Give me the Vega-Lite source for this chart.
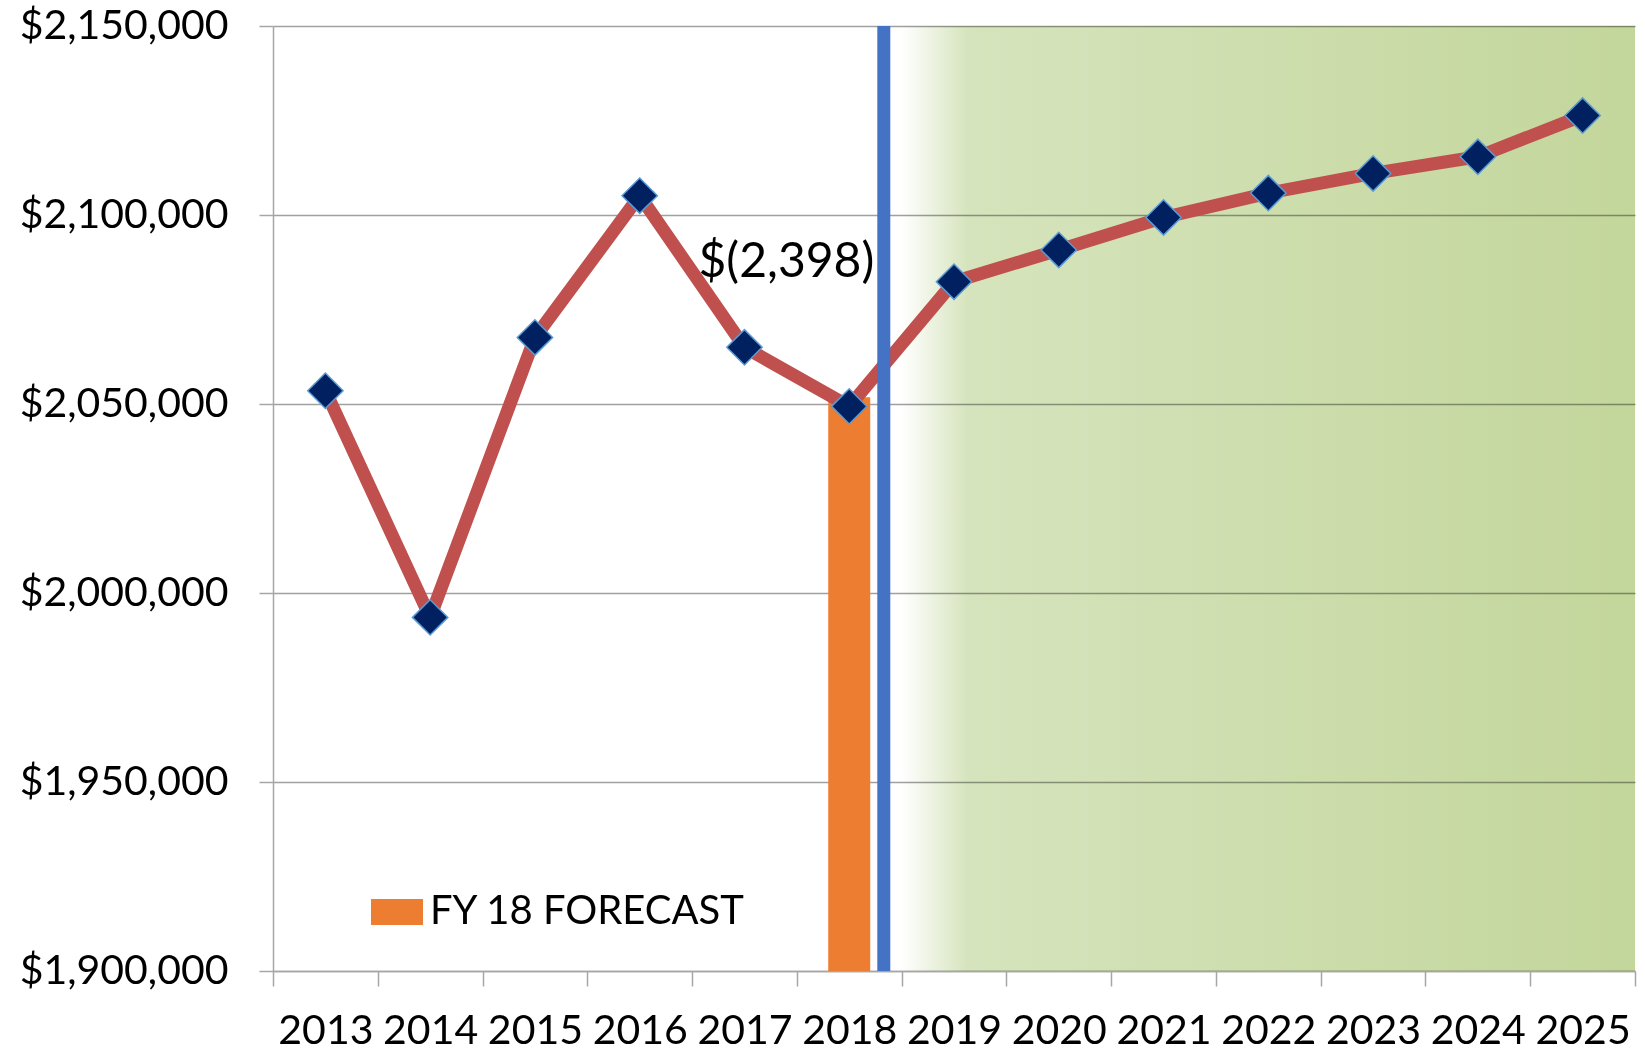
{
  "$schema": "https://vega.github.io/schema/vega-lite/v6.json",
  "width": 1362,
  "height": 945,
  "autosize": "none",
  "padding": {"left": 273, "top": 26, "right": 10, "bottom": 82},
  "background": "white",
  "config": {"view": {"stroke": null}, "font": "Lato"},
  "datasets": {
    "revenue": [
      {"year": 2013, "value": 2053500},
      {"year": 2014, "value": 1993550},
      {"year": 2015, "value": 2067600},
      {"year": 2016, "value": 2105100},
      {"year": 2017, "value": 2065000},
      {"year": 2018, "value": 2049370},
      {"year": 2019, "value": 2082350},
      {"year": 2020, "value": 2090750},
      {"year": 2021, "value": 2099350},
      {"year": 2022, "value": 2105800},
      {"year": 2023, "value": 2111000},
      {"year": 2024, "value": 2115400},
      {"year": 2025, "value": 2126300}
    ],
    "forecast": [{"year": 2018, "value": 2051770, "series": "FY 18 FORECAST"}],
    "divider": [{"year": 2018.33}],
    "forecastPeriod": [{"year": 2018.5, "end": 2025.5}],
    "annotation": [{"year": 2017.4, "value": 2087400, "label": "$(2,398)"}]
  },
  "layer": [
    {
      "data": {"name": "forecastPeriod"},
      "mark": {
        "type": "rect",
        "blend": "multiply",
        "fill": {
          "gradient": "linear", "x1": 0, "y1": 0, "x2": 1, "y2": 0,
          "stops": [
            {"offset": 0, "color": "#ffffff"},
            {"offset": 0.09, "color": "#D6E4BD"},
            {"offset": 1, "color": "#C3D69B"}
          ]
        }
      },
      "encoding": {
        "x": {"field": "year", "type": "quantitative", "scale": {"domain": [2012.5, 2025.5], "nice": false, "zero": false, "padding": 0}},
        "x2": {"field": "end"}
      }
    },
    {
      "data": {"name": "forecast"},
      "mark": {"type": "bar", "width": 42, "clip": true},
      "encoding": {
        "x": {"field": "year", "type": "quantitative", "scale": {"domain": [2012.5, 2025.5], "nice": false, "zero": false, "padding": 0}},
        "y": {"field": "value", "type": "quantitative", "scale": {"domain": [1900000, 2150000], "nice": false, "zero": false, "padding": 0}},
        "color": {
          "field": "series", "type": "nominal",
          "scale": {"range": ["#ED7D31"]},
          "legend": {
            "orient": "none", "legendX": 98, "legendY": 860, "title": null, "padding": 0,
            "symbolType": "M-1,-0.5H1V0.5H-1Z", "symbolSize": 2704, "symbolStrokeWidth": 0, "symbolOpacity": 1,
            "labelFont": "Lato", "labelFontSize": 40, "labelColor": "black", "labelOffset": 7, "labelLimit": 0
          }
        }
      }
    },
    {
      "data": {"name": "revenue"},
      "mark": {"type": "line", "color": "#C0504D", "strokeWidth": 13, "strokeJoin": "round", "strokeCap": "round"},
      "encoding": {
        "x": {
          "field": "year", "type": "quantitative",
          "scale": {"domain": [2012.5, 2025.5], "nice": false, "zero": false, "padding": 0},
          "axis": {
            "title": null,
            "values": [2012.5, 2013, 2013.5, 2014, 2014.5, 2015, 2015.5, 2016, 2016.5, 2017, 2017.5, 2018, 2018.5, 2019, 2019.5, 2020, 2020.5, 2021, 2021.5, 2022, 2022.5, 2023, 2023.5, 2024, 2024.5, 2025, 2025.5],
            "grid": false,
            "domainColor": "#A6A6A6", "domainWidth": 1.5,
            "tickColor": "#A6A6A6", "tickWidth": 1.5, "tickSize": 15,
            "tickOpacity": {"condition": {"test": "datum.value % 1 === 0", "value": 0}, "value": 1},
            "labelExpr": "datum.value % 1 === 0 ? format(datum.value, 'd') : ''",
            "labelFont": "Lato", "labelFontSize": 41, "labelColor": "black", "labelPadding": 25,
            "labelOverlap": false, "labelFlush": false, "labelBound": false, "labelLimit": 0
          }
        },
        "y": {
          "field": "value", "type": "quantitative",
          "scale": {"domain": [1900000, 2150000], "nice": false, "zero": false, "padding": 0},
          "axis": {
            "title": null,
            "values": [1900000, 1950000, 2000000, 2050000, 2100000, 2150000],
            "format": "$,.0f",
            "grid": true, "gridColor": "#A0A0A0", "gridWidth": 1.5,
            "domainColor": "#A6A6A6", "domainWidth": 1.5,
            "tickColor": "#A6A6A6", "tickWidth": 1.5, "tickSize": 14,
            "labelFont": "Lato", "labelFontSize": 41, "labelColor": "black", "labelPadding": 31, "labelLimit": 0
          }
        }
      }
    },
    {
      "data": {"name": "divider"},
      "mark": {"type": "rule", "color": "#4472C4", "strokeWidth": 13},
      "encoding": {
        "x": {"field": "year", "type": "quantitative", "scale": {"domain": [2012.5, 2025.5], "nice": false, "zero": false, "padding": 0}}
      }
    },
    {
      "data": {"name": "revenue"},
      "mark": {"type": "point", "shape": "diamond", "size": 1250, "filled": true, "fill": "#002060", "stroke": "#5B9BD5", "strokeWidth": 1.5, "opacity": 1},
      "encoding": {
        "x": {"field": "year", "type": "quantitative", "scale": {"domain": [2012.5, 2025.5], "nice": false, "zero": false, "padding": 0}},
        "y": {"field": "value", "type": "quantitative", "scale": {"domain": [1900000, 2150000], "nice": false, "zero": false, "padding": 0}}
      }
    },
    {
      "data": {"name": "annotation"},
      "mark": {"type": "text", "font": "Lato", "fontSize": 48, "color": "black", "align": "center", "baseline": "middle"},
      "encoding": {
        "x": {"field": "year", "type": "quantitative", "scale": {"domain": [2012.5, 2025.5], "nice": false, "zero": false, "padding": 0}},
        "y": {"field": "value", "type": "quantitative", "scale": {"domain": [1900000, 2150000], "nice": false, "zero": false, "padding": 0}},
        "text": {"field": "label"}
      }
    }
  ]
}
